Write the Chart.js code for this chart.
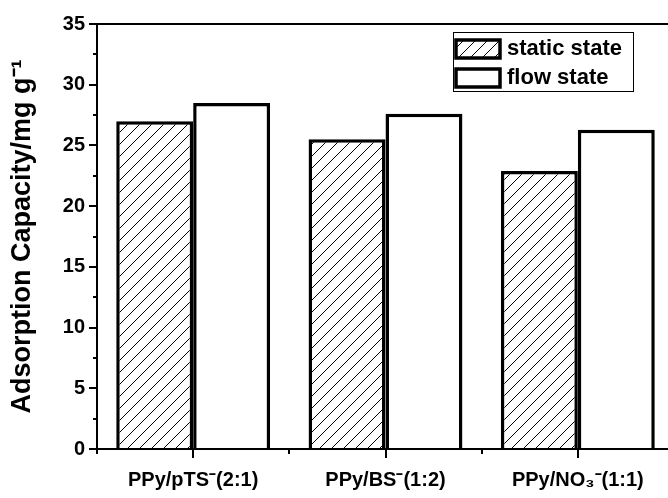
<!DOCTYPE html>
<html>
<head>
<meta charset="utf-8">
<script src="https://cdn.jsdelivr.net/npm/chart.js@4.4.1/dist/chart.umd.min.js"></script>
<style>
  html, body { margin: 0; padding: 0; background: #fff; overflow: hidden; }
  canvas { display: block; }
</style>
</head>
<body>
<canvas id="chart" width="690" height="498"></canvas>
<script>
// === DATA ===
const categories = ["PPy/pTS⁻(2:1)", "PPy/BS⁻(1:2)", "PPy/NO₃⁻(1:1)"];
const staticState = [27.0, 25.5, 22.9];
const flowState = [28.5, 27.6, 26.3];
const seriesNames = ["static state", "flow state"];
const yMin = 0, yMax = 35, yStep = 5;

const FONT = "'Liberation Sans', Arial, sans-serif";
const ctx = document.getElementById("chart").getContext("2d");

// diagonal hatch for the static bars
function makeHatch() {
  const s = 12;
  const c = document.createElement("canvas");
  c.width = s; c.height = s;
  const g = c.getContext("2d");
  g.fillStyle = "#fff";
  g.fillRect(0, 0, s, s);
  g.strokeStyle = "#000";
  g.lineWidth = 1;
  g.beginPath();
  g.moveTo(0, s); g.lineTo(s, 0);
  g.moveTo(-1, 1); g.lineTo(1, -1);
  g.moveTo(s - 1, s + 1); g.lineTo(s + 1, s - 1);
  g.stroke();
  return ctx.createPattern(c, "repeat");
}
const hatch = makeHatch();

function line(c, x1, y1, x2, y2) {
  c.beginPath();
  c.moveTo(x1, y1);
  c.lineTo(x2, y2);
  c.stroke();
}

// === frame + ticks ===
const framePlugin = {
  id: "frame",
  afterDatasetsDraw(chart) {
    const { ctx: c, chartArea: a, scales: { x, y } } = chart;
    c.save();
    c.strokeStyle = "#000";
    c.lineWidth = 2;
    c.strokeRect(a.left, a.top, a.right - a.left, a.bottom - a.top);
    for (let v = yMin; v <= yMax; v += yStep / 2) {
      const py = Math.round(y.getPixelForValue(v));
      const len = v % yStep === 0 ? 8 : 4;
      line(c, a.left - len, py, a.left, py);
    }
    const half = (x.getPixelForValue(1) - x.getPixelForValue(0)) / 2;
    categories.forEach((cat, i) => {
      const px = Math.round(x.getPixelForValue(i));
      line(c, px, a.bottom, px, a.bottom + 9);
    });
    for (let i = 0; i <= categories.length; i++) {
      const px = Math.round(x.getPixelForValue(0) - half + i * half * 2);
      line(c, px, a.bottom, px, a.bottom + 5);
    }
    c.restore();
  }
};

// === legend box ===
const legendPlugin = {
  id: "boxLegend",
  afterDraw(chart) {
    const { ctx: c, chartArea: a } = chart;
    const right = a.right - 41, top = a.top + 8;
    const left = right - 180, bottom = top + 59;
    c.save();
    c.fillStyle = "#fff";
    c.fillRect(left, top, right - left, bottom - top);
    c.strokeStyle = "#000";
    c.lineWidth = 1;
    c.strokeRect(left + 0.5, top + 0.5, right - left, bottom - top);
    const fills = [hatch, "#fff"];
    seriesNames.forEach((name, i) => {
      const sy = top + 8 + i * 29;
      c.fillStyle = fills[i];
      c.fillRect(left + 3, sy, 44, 18);
      c.lineWidth = 3.5;
      c.strokeRect(left + 3, sy, 44, 18);
      c.fillStyle = "#000";
      c.font = "bold 22px " + FONT;
      c.textBaseline = "middle";
      c.fillText(name, left + 54, sy + 9);
    });
    c.restore();
  }
};

new Chart(ctx, {
  type: "bar",
  data: {
    labels: categories,
    datasets: [
      { label: seriesNames[0], data: staticState, backgroundColor: hatch, borderColor: "#000", borderWidth: 3.5 },
      { label: seriesNames[1], data: flowState, backgroundColor: "#fff", borderColor: "#000", borderWidth: 3.5 }
    ]
  },
  options: {
    responsive: false,
    animation: false,
    layout: { padding: { top: 24, right: 16, left: 0, bottom: 0 } },
    datasets: { bar: { categoryPercentage: 0.8, barPercentage: 1.0 } },
    plugins: { legend: { display: false }, tooltip: { enabled: false } },
    scales: {
      x: {
        afterFit(s) { s.height = 49; },
        grid: { display: false, drawTicks: false },
        border: { display: false },
        ticks: { padding: 19, color: "#000", font: { family: FONT, weight: "bold", size: 20 } }
      },
      y: {
        min: yMin,
        max: yMax,
        afterFit(s) { s.width = 97; },
        grid: { display: false, drawTicks: false },
        border: { display: false },
        ticks: { stepSize: yStep, padding: 12, color: "#000", font: { family: FONT, weight: "bold", size: 20 } },
        title: {
          display: true,
          text: "Adsorption Capacity/mg g⁻¹",
          color: "#000",
          padding: { top: 6, bottom: 0 },
          font: { family: FONT, weight: "bold", size: 27 }
        }
      }
    }
  },
  plugins: [framePlugin, legendPlugin]
});
</script>
</body>
</html>
